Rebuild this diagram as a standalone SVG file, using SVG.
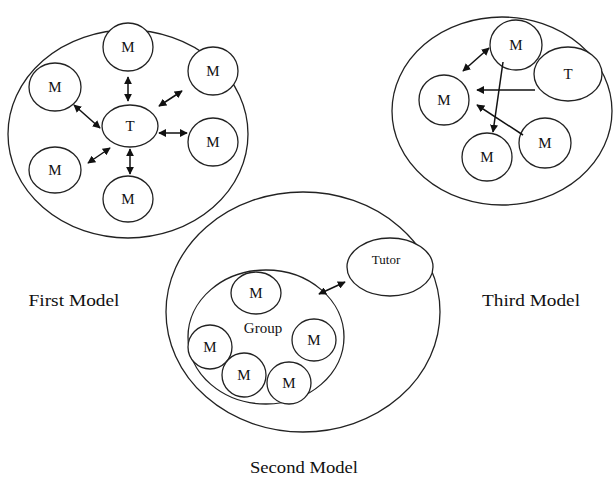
<svg xmlns="http://www.w3.org/2000/svg" width="613" height="478" viewBox="0 0 613 478">
<defs>
<marker id="ah" viewBox="0 0 10 10" refX="9" refY="5" markerWidth="8" markerHeight="8" markerUnits="userSpaceOnUse" orient="auto-start-reverse">
<path d="M0,0 L10,5 L0,10 z" fill="#111"/>
</marker>
<style>
.o{fill:none;stroke:#222;stroke-width:1.3}
.c{fill:#fff;stroke:#222;stroke-width:1.3}
.t{font-family:"Liberation Serif","Times New Roman",serif;fill:#111;text-anchor:middle}
.m{font-size:15px}
.l{font-size:17px}
.a{stroke:#111;stroke-width:1.5;fill:none}
.d{marker-start:url(#ah);marker-end:url(#ah)}
.s{marker-end:url(#ah)}
</style>
</defs>
<rect width="613" height="478" fill="#fff"/>

<!-- First Model -->
<g id="first-model">
<ellipse class="o" cx="128" cy="134" rx="120" ry="104"/>
<g id="f-m1"><ellipse class="c" cx="128" cy="47" rx="25" ry="24"/><text class="t m" x="128" y="52">M</text></g>
<g id="f-m2"><ellipse class="c" cx="55" cy="87" rx="26" ry="24"/><text class="t m" x="55" y="92">M</text></g>
<g id="f-m3"><ellipse class="c" cx="213" cy="71" rx="25" ry="24"/><text class="t m" x="213" y="76">M</text></g>
<g id="f-t"><ellipse class="c" cx="130" cy="126" rx="28" ry="21"/><text class="t m" x="130" y="131">T</text></g>
<g id="f-m4"><ellipse class="c" cx="213" cy="142" rx="25" ry="24"/><text class="t m" x="213" y="147">M</text></g>
<g id="f-m5"><ellipse class="c" cx="55" cy="170" rx="26" ry="23"/><text class="t m" x="55" y="175">M</text></g>
<g id="f-m6"><ellipse class="c" cx="128" cy="199" rx="25" ry="23"/><text class="t m" x="128" y="204">M</text></g>
<text class="t l" x="74" y="306" textLength="91" lengthAdjust="spacingAndGlyphs">First Model</text>
</g>

<!-- Third Model -->
<g id="third-model">
<ellipse class="o" cx="502" cy="111" rx="110" ry="94"/>
<g id="t-m1"><ellipse class="c" cx="516" cy="45" rx="26" ry="25"/><text class="t m" x="516" y="50">M</text></g>
<g id="t-t"><ellipse class="c" cx="568" cy="74" rx="34" ry="27"/><text class="t m" x="568" y="79">T</text></g>
<g id="t-m2"><ellipse class="c" cx="444" cy="100" rx="25" ry="25"/><text class="t m" x="444" y="105">M</text></g>
<g id="t-m3"><ellipse class="c" cx="545" cy="143" rx="26" ry="25"/><text class="t m" x="545" y="148">M</text></g>
<g id="t-m4"><ellipse class="c" cx="487" cy="157" rx="25" ry="24"/><text class="t m" x="487" y="162">M</text></g>
<text class="t l" x="531" y="306" textLength="98" lengthAdjust="spacingAndGlyphs">Third Model</text>
</g>

<!-- Second Model -->
<g id="second-model">
<ellipse class="o" cx="303" cy="312" rx="137" ry="120"/>
<g id="s-tutor"><ellipse class="c" cx="390" cy="267" rx="43" ry="29"/><text class="t" style="font-size:13px" x="386" y="264">Tutor</text></g>
<g id="s-group"><ellipse class="c" cx="266" cy="337" rx="78" ry="67"/><text class="t m" x="263" y="333">Group</text></g>
<g id="s-m1"><ellipse class="c" cx="256" cy="293" rx="25" ry="21"/><text class="t m" x="256" y="298">M</text></g>
<g id="s-m2"><ellipse class="c" cx="314" cy="340" rx="22" ry="21"/><text class="t m" x="314" y="345">M</text></g>
<g id="s-m3"><ellipse class="c" cx="210" cy="347" rx="22" ry="22"/><text class="t m" x="210" y="352">M</text></g>
<g id="s-m4"><ellipse class="c" cx="244" cy="375" rx="22" ry="22"/><text class="t m" x="244" y="380">M</text></g>
<g id="s-m5"><ellipse class="c" cx="289" cy="383" rx="22" ry="21"/><text class="t m" x="289" y="388">M</text></g>
<text class="t l" x="304" y="473" textLength="108" lengthAdjust="spacingAndGlyphs">Second Model</text>
</g>

<!-- Connectors -->
<g id="connectors">
<line class="a d" x1="128" y1="77" x2="128" y2="101"/>
<line class="a d" x1="74" y1="105" x2="100" y2="128"/>
<line class="a d" x1="159" y1="106" x2="182" y2="91"/>
<line class="a d" x1="159" y1="133" x2="187" y2="133"/>
<line class="a d" x1="88" y1="163" x2="110" y2="148"/>
<line class="a d" x1="130" y1="149" x2="130" y2="174"/>

<line class="a d" x1="463" y1="71" x2="489" y2="48"/>
<line class="a s" x1="535" y1="90" x2="477" y2="90"/>
<line class="a s" x1="503" y1="62" x2="493" y2="132"/>
<line class="a s" x1="523" y1="135" x2="477" y2="105"/>

<line class="a d" x1="319" y1="294" x2="345" y2="282"/>
</g>
</svg>
